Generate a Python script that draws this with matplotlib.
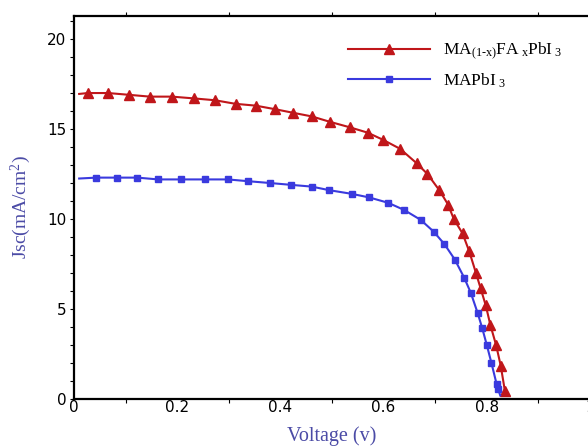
import numpy as np
import matplotlib
matplotlib.use('Agg')
import matplotlib.pyplot as plt
from matplotlib.ticker import MultipleLocator, FuncFormatter

plt.rcParams['mathtext.fontset'] = 'custom'
plt.rcParams['mathtext.rm'] = 'Liberation Serif'
plt.rcParams['mathtext.it'] = 'Liberation Serif:italic'

# J-V curves
v_mixed = [0.010, 0.027, 0.066, 0.107, 0.147, 0.190, 0.233, 0.273, 0.313, 0.352,
           0.390, 0.425, 0.461, 0.496, 0.534, 0.569, 0.599, 0.632, 0.664, 0.685,
           0.708, 0.725, 0.736, 0.753, 0.766, 0.779, 0.788, 0.798, 0.807, 0.818,
           0.827, 0.835]
j_mixed = [16.95, 17.0, 17.0, 16.9, 16.8, 16.8, 16.7, 16.6, 16.4, 16.3,
           16.1, 15.9, 15.7, 15.4, 15.1, 14.8, 14.4, 13.9, 13.1, 12.5,
           11.6, 10.8, 10.0, 9.2, 8.2, 7.0, 6.15, 5.2, 4.1, 3.0,
           1.85, 0.46]

v_mapbi = [0.010, 0.043, 0.083, 0.123, 0.163, 0.207, 0.254, 0.298, 0.338, 0.380,
           0.420, 0.461, 0.495, 0.538, 0.572, 0.609, 0.640, 0.672, 0.697, 0.718,
           0.738, 0.756, 0.769, 0.782, 0.791, 0.800, 0.809, 0.819, 0.822, 0.826]
j_mapbi = [12.25, 12.3, 12.3, 12.3, 12.2, 12.2, 12.2, 12.2, 12.1, 12.0,
           11.9, 11.8, 11.6, 11.4, 11.2, 10.9, 10.5, 9.95, 9.3, 8.6,
           7.75, 6.75, 5.9, 4.8, 3.95, 3.0, 2.0, 0.83, 0.55, 0.2]

labels = [r'MA$_{\text{(1-x)}}$FA$_{\rm \ x}$PbI$_{\rm \ 3}$', r'MAPbI$_{\rm \ 3}$']

red = '#c0161a'
blue = '#3a3ade'
label_color = '#4b4ba6'

fig = plt.figure(figsize=(5.88, 4.47), dpi=100)
ax = fig.add_axes([74 / 588, 48 / 447, 516 / 588, 383 / 447])

ax.plot(v_mixed, j_mixed, color=red, lw=1.5, marker='^', ms=7,
        markevery=list(range(1, len(v_mixed))), label=labels[0])
ax.plot(v_mapbi, j_mapbi, color=blue, lw=1.5, marker='s', ms=5,
        markevery=list(range(1, len(v_mapbi) - 1)), label=labels[1])

ax.set_xlim(0, 1)
ax.set_ylim(0, 21.28)
ax.xaxis.set_major_locator(MultipleLocator(0.2))
ax.xaxis.set_minor_locator(MultipleLocator(0.1))
ax.yaxis.set_major_locator(MultipleLocator(5))
ax.yaxis.set_minor_locator(MultipleLocator(1))
ax.xaxis.set_major_formatter(FuncFormatter(lambda v, p: '%g' % round(v, 1)))

for s in ['left', 'bottom', 'top']:
    ax.spines[s].set_linewidth(1.6)
ax.spines['right'].set_visible(False)
ax.tick_params(which='both', direction='out', length=3, width=0.8,
               top=True, labelsize=11, pad=1)
ax.tick_params(axis='y', which='major', pad=2.5)
ax.tick_params(axis='x', which='major', length=0, pad=1)
for lab in ax.get_xticklabels() + ax.get_yticklabels():
    lab.set_family('DejaVu Sans')

ax.set_xlabel('Voltage (v)', family='Liberation Serif', fontsize=14.5,
              color=label_color, labelpad=8)
ax.set_ylabel(r'Jsc(mA/cm$^{\rm 2}$)', family='Liberation Serif', fontsize=14,
              color=label_color, labelpad=10)

ax.legend(loc='upper left', bbox_to_anchor=(348 / 588, 1 - 41 / 447),
          bbox_transform=fig.transFigure, frameon=False,
          prop={'family': 'Liberation Serif', 'size': 12.5},
          handlelength=4.7, handletextpad=0.8, labelspacing=0.55,
          borderpad=0, borderaxespad=0)

fig.savefig('out.png', dpi=100)
